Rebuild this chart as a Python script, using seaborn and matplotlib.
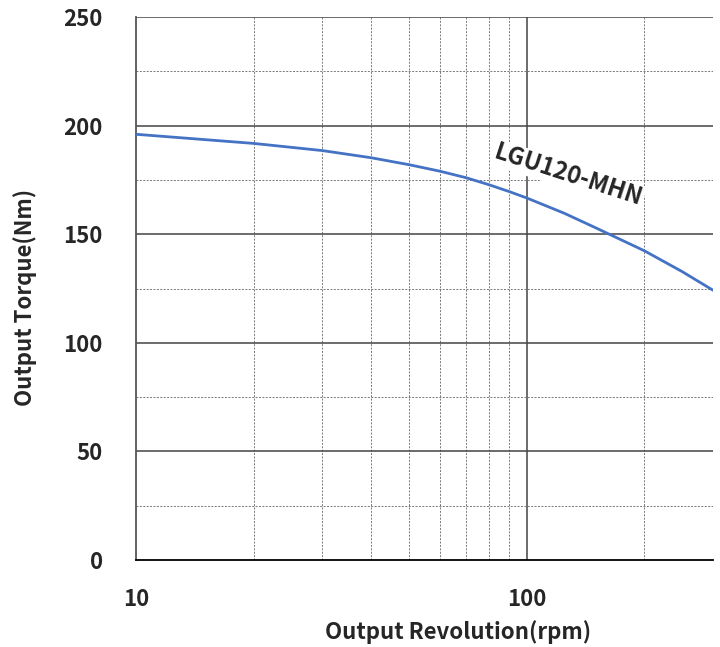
import matplotlib
matplotlib.use("Agg")
import matplotlib.pyplot as plt
import seaborn as sns
import pandas as pd
from matplotlib.ticker import FixedLocator, NullFormatter

rpm = [10, 20, 30, 40, 50, 60, 70, 80, 90, 100, 125, 150, 200, 250, 300]
torque = [196, 191.8, 188.5, 185.2, 182.0, 179.0, 176.0, 172.8, 169.7, 166.7, 159.6, 153.0, 142.4, 132.8, 124.2]
series_label = "LGU120-MHN"
x_ticks = [10, 100]
y_ticks = [0, 50, 100, 150, 200, 250]

sns.set_style("white")
plt.rcParams['font.family'] = ['Noto Sans CJK JP', 'DejaVu Sans']

df = pd.DataFrame({"rpm": rpm, "torque": torque})

fig = plt.figure(figsize=(7.2, 6.47), dpi=100)
ax = fig.add_axes([136/720, 1-560/647, (713-136)/720, (560-17)/647])

ax.set_xscale("log")
ax.set_xlim(10, 300)
ax.set_ylim(0, 250)

# grids
for v in [20, 30, 40, 50, 60, 70, 80, 90, 200, 299.3]:
    ax.axvline(v, color="#777777", lw=0.7, ls=(0, (2, 1.5)), zorder=1)
ax.axvline(100, color="#444444", lw=1.1, zorder=1)
for v in [25, 75, 125, 175, 225]:
    ax.axhline(v, color="#777777", lw=0.7, ls=(0, (2, 1.5)), zorder=1)
for v in [50, 100, 150, 200, 250]:
    ax.axhline(v, color="#444444", lw=1.1, zorder=1)

sns.lineplot(data=df, x="rpm", y="torque", ax=ax, color="#4472C4", lw=2.0, zorder=3)

ax.xaxis.set_major_locator(FixedLocator(x_ticks))
ax.xaxis.set_minor_locator(FixedLocator([]))
ax.xaxis.set_minor_formatter(NullFormatter())
ax.set_xticks(x_ticks)
ax.set_xticklabels([str(t) for t in x_ticks], fontsize=16, fontweight="bold")
ax.set_yticks(y_ticks)
ax.set_yticklabels([str(t) for t in y_ticks], fontsize=16, fontweight="bold")
ax.tick_params(axis="y", length=0, pad=24)
ax.tick_params(axis="x", length=0, pad=20)

for s in ["top", "right"]:
    ax.spines[s].set_visible(False)
ax.spines["left"].set_color("#555555")
ax.spines["left"].set_linewidth(1.3)
ax.spines["bottom"].set_color("#000000")
ax.spines["bottom"].set_linewidth(1.3)

ax.set_xlabel("Output Revolution(rpm)", fontsize=16, fontweight="bold")
ax.set_ylabel("Output Torque(Nm)", fontsize=16, fontweight="bold")
ax.xaxis.set_label_coords((458-136)/577, -(632-560)/543, transform=ax.transAxes)
ax.yaxis.set_label_coords(-(136-25)/577, (560-297)/543, transform=ax.transAxes)
ax.xaxis.label.set_va("center")
ax.yaxis.label.set_va("center")

ax.text(128, 177, series_label, fontsize=17, fontweight="bold", rotation=-18,
        ha="center", va="center", zorder=4,
        bbox=dict(facecolor="white", edgecolor="none", pad=1))

fig.savefig("out.png", dpi=100)
